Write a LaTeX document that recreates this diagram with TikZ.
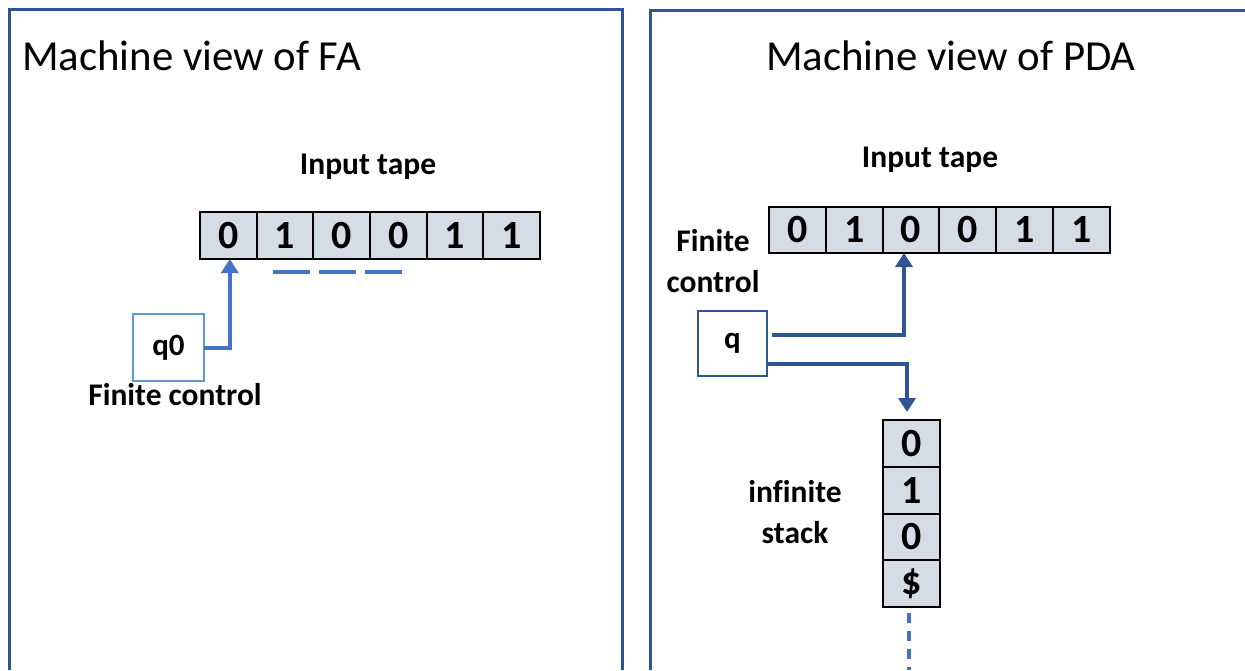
\documentclass[tikz,border=0pt]{standalone}
\usepackage{fontspec}
\setmainfont{Carlito}[Ligatures=NoCommon]
\usetikzlibrary{arrows.meta}
\definecolor{frameblue}{HTML}{2F5597}
\definecolor{arrowblue}{HTML}{4472C4}
\definecolor{boxblue}{HTML}{5B9BD5}
\definecolor{cellfill}{HTML}{D6DCE4}
\tikzset{
  cell/.style={draw=black, fill=cellfill, line width=2pt, minimum width=56.7pt,
    minimum height=47pt, inner sep=0pt, outer sep=0pt, font=\fontsize{40}{44}\selectfont\bfseries},
  lbl/.style={font=\fontsize{31.5}{41}\selectfont\bfseries, align=center, inner sep=0pt},
  title/.style={font=\fontsize{42.8}{50}\selectfont, inner sep=0pt},
  statebox/.style={fill=white, inner sep=0pt, outer sep=0pt, font=\fontsize{31}{34}\selectfont\bfseries},
  frame/.style={draw=frameblue, line width=3pt},
  head/.style={line width=4pt, -{Triangle[width=17pt,length=14pt]}},
}
\begin{document}
\begin{tikzpicture}[x=1pt,y=-1pt]
\useasboundingbox (0,0) rectangle (1245,670);
% panel frames, open at the bottom
\draw[frame] (9,670) -- (9,9) -- (622,9) -- (622,670);
\draw[frame] (650,670) -- (650,10) -- (1245,10);

% ---------- finite automaton ----------
\node[title, anchor=west] (tfa) at (22,56) {Machine view of FA};
\node[lbl] (intfa) at (368,167) {Input tape};
\node[cell] (f0) at (228.3,235.5) {0};
\node[cell, anchor=west] (f1) at (f0.east) {1};
\node[cell, anchor=west] (f2) at (f1.east) {0};
\node[cell, anchor=west] (f3) at (f2.east) {0};
\node[cell, anchor=west] (f4) at (f3.east) {1};
\node[cell, anchor=west] (f5) at (f4.east) {1};
\coordinate (dashA) at (273,272);
\coordinate (dashB) at (402,272);
\draw[arrowblue, line width=4pt, dash pattern=on 37pt off 9pt] (dashA) -- (dashB);
\node[statebox, draw=boxblue, line width=2pt, minimum width=71pt, minimum height=67pt] (q0) at (168.5,347.5) {q0};
\node[lbl] (fcfa) at (175,395) {Finite control};
\draw[head, arrowblue] (q0.east) -| ([xshift=1.5pt]f0.south);

% ---------- pushdown automaton ----------
\node[title] (tpda) at (951,56) {Machine view of PDA};
\node[lbl] (intpda) at (930,160) {Input tape};
\node[cell, minimum width=56.8pt, minimum height=46pt] (p0) at (797.4,230) {0};
\node[cell, minimum width=56.8pt, minimum height=46pt, anchor=west] (p1) at (p0.east) {1};
\node[cell, minimum width=56.8pt, minimum height=46pt, anchor=west] (p2) at (p1.east) {0};
\node[cell, minimum width=56.8pt, minimum height=46pt, anchor=west] (p3) at (p2.east) {0};
\node[cell, minimum width=56.8pt, minimum height=46pt, anchor=west] (p4) at (p3.east) {1};
\node[cell, minimum width=56.8pt, minimum height=46pt, anchor=west] (p5) at (p4.east) {1};
\node[lbl] (fcpda) at (713,261) {Finite\\control};
\node[statebox, draw=frameblue, line width=1.5pt, minimum width=69pt, minimum height=65pt] (q) at (732.5,343.5) {q};

\node[cell, minimum width=57pt, minimum height=46.75pt] (s0) at (911.5,443.4) {0};
\node[cell, minimum width=57pt, minimum height=46.75pt, anchor=north] (s1) at (s0.south) {1};
\node[cell, minimum width=57pt, minimum height=46.75pt, anchor=north] (s2) at (s1.south) {0};
\node[cell, minimum width=57pt, minimum height=46.75pt, anchor=north] (s3) at (s2.south) {\$};
\node[lbl] (stk) at (795,512) {infinite\\stack};

\draw[head, frameblue] ([xshift=5pt,yshift=8.5pt]q.east) -| ([xshift=-7pt]p2.south);
\draw[head, frameblue] ([yshift=-20.5pt]q.east) -| ([xshift=-4.5pt,yshift=8pt]s0.north);
\coordinate (stackend) at (909,670);
\draw[arrowblue, line width=4pt, dash pattern=on 10pt off 8pt] ([xshift=-2.5pt,yshift=-6pt]s3.south) -- (stackend);
\end{tikzpicture}
\end{document}
